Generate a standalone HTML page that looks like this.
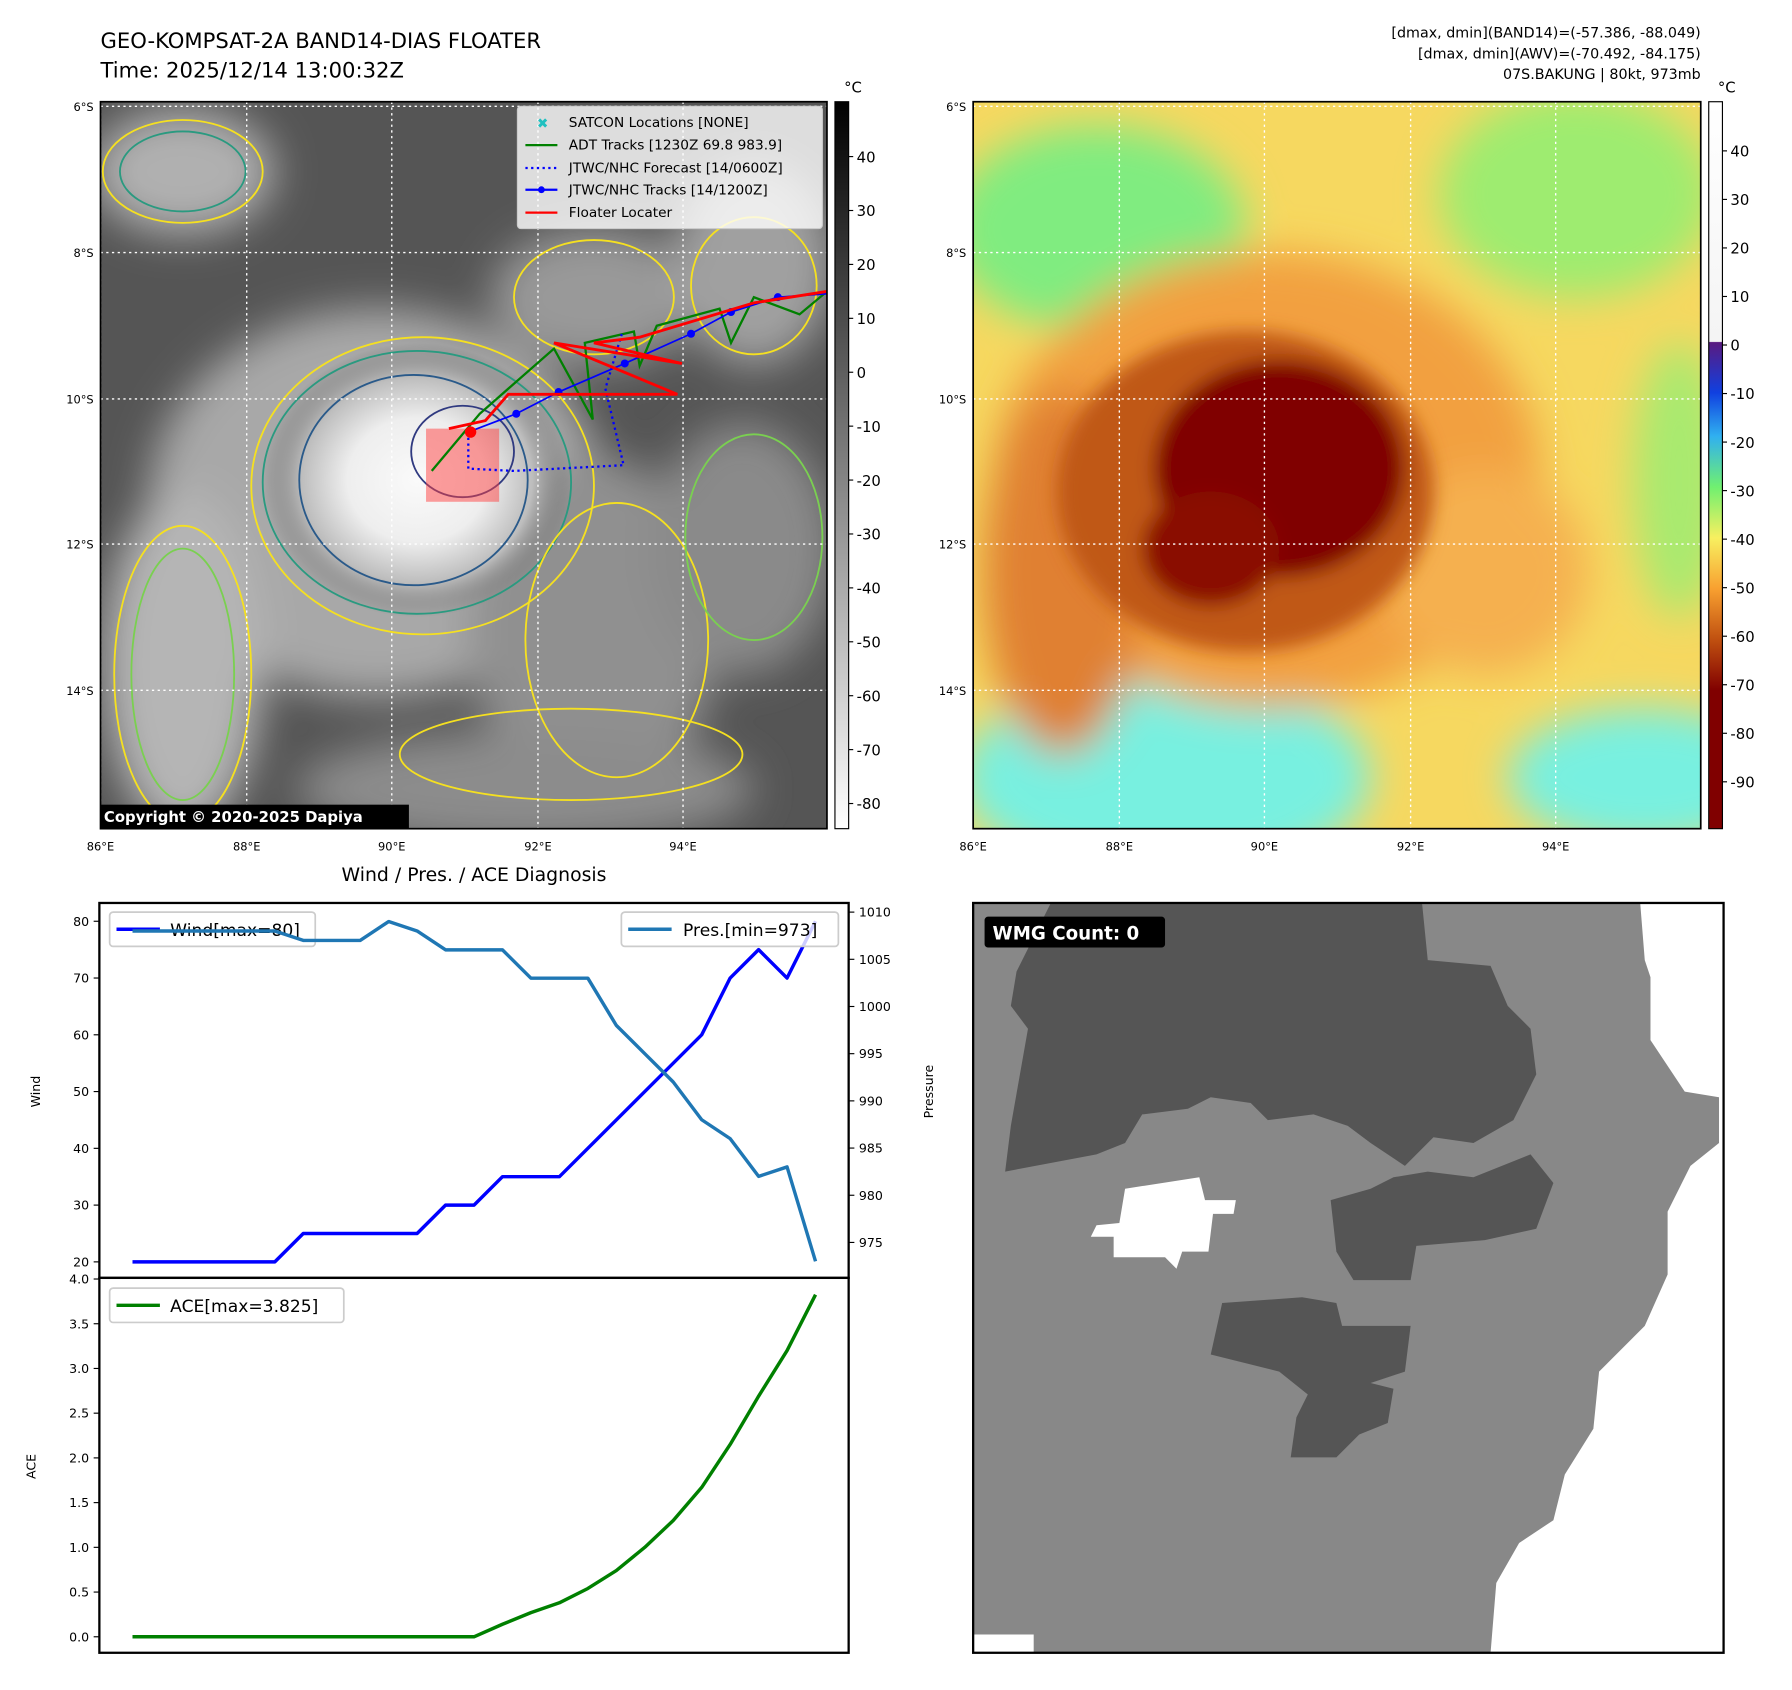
<!DOCTYPE html>
<html><head><meta charset="utf-8"><style>
html,body{margin:0;padding:0;background:#fff;}
body{width:1792px;height:1690px;overflow:hidden;}
#root{position:absolute;left:0;top:0;width:1568px;height:1478px;transform:scale(1.1422,1.1430);transform-origin:0 0;font-family:"DejaVu Sans","Liberation Sans",sans-serif;}
.t{position:absolute;white-space:nowrap;color:#000;}
</style></head><body>
<div id="root">
<div class="t" style="left:88px;top:24px;font-size:18.5px;line-height:26px;">GEO-KOMPSAT-2A BAND14-DIAS FLOATER<br>Time: 2025/12/14 13:00:32Z</div>
<div class="t" style="right:79px;top:20px;font-size:12.5px;line-height:18px;text-align:right;">[dmax, dmin](BAND14)=(-57.386, -88.049)<br>[dmax, dmin](AWV)=(-70.492, -84.175)<br>07S.BAKUNG | 80kt, 973mb</div>

<svg width="1568" height="1478" style="position:absolute;left:0;top:0" font-family="DejaVu Sans, Liberation Sans, sans-serif">
<defs>
<radialGradient id="eyeL" cx="0.5" cy="0.5" r="0.5"><stop offset="0" stop-color="#fafafa"/><stop offset="0.45" stop-color="#eeeeee"/><stop offset="0.75" stop-color="#bdbdbd"/><stop offset="1" stop-color="#606060" stop-opacity="0"/></radialGradient>
<linearGradient id="cbL" x1="0" y1="0" x2="0" y2="1"><stop offset="0" stop-color="#000"/><stop offset="1" stop-color="#fff"/></linearGradient>
<linearGradient id="cbR" x1="0" y1="0" x2="0" y2="1">
<stop offset="0" stop-color="#ffffff"/><stop offset="0.33" stop-color="#f4f4f4"/><stop offset="0.331" stop-color="#5a1a80"/><stop offset="0.40" stop-color="#1040e0"/><stop offset="0.46" stop-color="#30b0f0"/><stop offset="0.53" stop-color="#70f070"/><stop offset="0.60" stop-color="#f8f060"/><stop offset="0.67" stop-color="#f8a030"/><stop offset="0.74" stop-color="#c05010"/><stop offset="0.81" stop-color="#800000"/><stop offset="1" stop-color="#800000"/></linearGradient>
<filter id="bl" x="-50%" y="-50%" width="200%" height="200%"><feGaussianBlur stdDeviation="18"/></filter>
<filter id="bl2" x="-50%" y="-50%" width="200%" height="200%"><feGaussianBlur stdDeviation="8"/></filter>
<clipPath id="clipL"><rect x="88" y="89" width="636" height="636"/></clipPath>
<clipPath id="clipR"><rect x="852" y="89" width="637" height="636"/></clipPath>
</defs>

<g clip-path="url(#clipL)">
<rect x="88" y="89" width="636" height="636" fill="#555"/>
<g filter="url(#bl)">
<ellipse cx="160" cy="150" rx="80" ry="55" fill="#b0b0b0"/>
<ellipse cx="520" cy="260" rx="90" ry="60" fill="#999"/>
<ellipse cx="660" cy="230" rx="70" ry="90" fill="#a0a0a0"/>
<ellipse cx="330" cy="440" rx="200" ry="170" fill="#a8a8a8"/>
<ellipse cx="160" cy="580" rx="70" ry="150" fill="#b5b5b5"/>
<ellipse cx="520" cy="550" rx="110" ry="150" fill="#909090"/>
<ellipse cx="650" cy="480" rx="80" ry="110" fill="#8a8a8a"/>
<ellipse cx="460" cy="690" rx="200" ry="50" fill="#8c8c8c"/>
</g>
<ellipse cx="365" cy="420" rx="135" ry="120" fill="url(#eyeL)"/>
<g fill="none" stroke-width="1.6">
<ellipse cx="370" cy="425" rx="150" ry="130" stroke="#f5e020"/>
<ellipse cx="365" cy="422" rx="135" ry="115" stroke="#2a9a80"/>
<ellipse cx="362" cy="420" rx="100" ry="92" stroke="#2a5a8a"/>
<ellipse cx="405" cy="395" rx="45" ry="40" stroke="#303a80"/>
<ellipse cx="160" cy="150" rx="70" ry="45" stroke="#f5e020"/>
<ellipse cx="160" cy="150" rx="55" ry="35" stroke="#2a9a80"/>
<ellipse cx="160" cy="590" rx="60" ry="130" stroke="#f5e020"/>
<ellipse cx="160" cy="590" rx="45" ry="110" stroke="#7ad050"/>
<ellipse cx="520" cy="260" rx="70" ry="50" stroke="#f5e020"/>
<ellipse cx="660" cy="250" rx="55" ry="60" stroke="#f5e020"/>
<ellipse cx="540" cy="560" rx="80" ry="120" stroke="#f5e020"/>
<ellipse cx="660" cy="470" rx="60" ry="90" stroke="#7ad050"/>
<ellipse cx="500" cy="660" rx="150" ry="40" stroke="#f5e020"/>
</g>
<g stroke="#fff" stroke-dasharray="2,3" stroke-width="1.2">
<line x1="88" y1="93" x2="724" y2="93"/><line x1="88" y1="221" x2="724" y2="221"/><line x1="88" y1="349" x2="724" y2="349"/><line x1="88" y1="476" x2="724" y2="476"/><line x1="88" y1="604" x2="724" y2="604"/>
<line x1="88" y1="89" x2="88" y2="725"/><line x1="216" y1="89" x2="216" y2="725"/><line x1="343" y1="89" x2="343" y2="725"/><line x1="471" y1="89" x2="471" y2="725"/><line x1="598" y1="89" x2="598" y2="725"/>
</g>
<rect x="373" y="375" width="64" height="64" fill="#ff4040" fill-opacity="0.5"/>
<polyline points="378,412 420,362 485,305 519,367 512,300 555,290 560,320 575,285 630,270 640,300 660,260 700,275 724,255" fill="none" stroke="#008000" stroke-width="2"/>
<polyline points="410,378 410,410 450,412 546,407 530,340 545,290" fill="none" stroke="#0000ff" stroke-width="2" stroke-dasharray="2,3"/>
<polyline points="410,378 452,362 489,343 547,318 605,292 640,273 681,260 724,257" fill="none" stroke="#0000ff" stroke-width="1.5"/>
<g fill="#0000ff"><circle cx="452" cy="362" r="3.5"/><circle cx="489" cy="343" r="3.5"/><circle cx="547" cy="318" r="3.5"/><circle cx="605" cy="292" r="3.5"/><circle cx="640" cy="273" r="3.5"/><circle cx="681" cy="260" r="3.5"/></g>
<polyline points="393,375 425,368 445,345 593,345 485,300 597,318 520,300 560,295 660,265 724,255" fill="none" stroke="#ff0000" stroke-width="2.5"/>
<circle cx="412" cy="378" r="5" fill="#ff0000"/>
<g>
<rect x="453" y="93" width="267" height="107" rx="3" fill="#fff" fill-opacity="0.8" stroke="#ccc"/>
<text x="470" y="112" font-size="12" fill="#20c0c0" font-weight="bold">✖</text><text x="498" y="111" font-size="12">SATCON Locations [NONE]</text>
<line x1="460" y1="127" x2="488" y2="127" stroke="#008000" stroke-width="2"/><text x="498" y="131" font-size="12">ADT Tracks [1230Z 69.8 983.9]</text>
<line x1="460" y1="147" x2="488" y2="147" stroke="#0000ff" stroke-width="2" stroke-dasharray="2,3"/><text x="498" y="151" font-size="12">JTWC/NHC Forecast [14/0600Z]</text>
<line x1="460" y1="166" x2="488" y2="166" stroke="#0000ff" stroke-width="2"/><circle cx="474" cy="166" r="3" fill="#0000ff"/><text x="498" y="170" font-size="12">JTWC/NHC Tracks [14/1200Z]</text>
<line x1="460" y1="186" x2="488" y2="186" stroke="#ff0000" stroke-width="2"/><text x="498" y="190" font-size="12">Floater Locater</text>
</g>
<rect x="88" y="704" width="270" height="21" fill="#000"/>
<text x="91" y="719" font-size="13" font-weight="bold" fill="#fff">Copyright © 2020-2025 Dapiya</text>
</g>
<rect x="88" y="89" width="636" height="636" fill="none" stroke="#000" stroke-width="1.5"/>
<g font-size="10" text-anchor="end">
<text x="82" y="97">6°S</text><text x="82" y="225">8°S</text><text x="82" y="353">10°S</text><text x="82" y="480">12°S</text><text x="82" y="608">14°S</text></g>
<g font-size="10" text-anchor="middle">
<text x="88" y="744">86°E</text><text x="216" y="744">88°E</text><text x="343" y="744">90°E</text><text x="471" y="744">92°E</text><text x="598" y="744">94°E</text></g>
<rect x="731" y="89" width="12" height="636" fill="url(#cbL)" stroke="#000"/>
<text x="739" y="81" font-size="13">°C</text>
<g font-size="13" id="cbLt"></g>

<g clip-path="url(#clipR)">
<rect x="852" y="89" width="637" height="636" fill="#f6d860"/>
<g filter="url(#bl)">
<ellipse cx="960" cy="200" rx="130" ry="90" fill="#80ec80"/>
<ellipse cx="1380" cy="170" rx="120" ry="90" fill="#9eec70"/>
<ellipse cx="1470" cy="420" rx="40" ry="120" fill="#a8ea70"/>
<ellipse cx="1020" cy="680" rx="180" ry="90" fill="#78f0e0"/>
<ellipse cx="1440" cy="680" rx="120" ry="60" fill="#78f0e0"/>
<ellipse cx="1110" cy="420" rx="240" ry="200" fill="#f2a040"/>
<ellipse cx="930" cy="500" rx="70" ry="160" fill="#e08030"/>
<ellipse cx="1300" cy="500" rx="90" ry="90" fill="#f5b050"/>
</g>
<g filter="url(#bl2)">
<ellipse cx="1090" cy="430" rx="165" ry="140" fill="#c05812"/>
<ellipse cx="1120" cy="410" rx="110" ry="95" fill="#800000"/>
<ellipse cx="1060" cy="480" rx="60" ry="50" fill="#8a1000"/>
</g>
<g stroke="#fff" stroke-dasharray="2,3" stroke-width="1.2">
<line x1="852" y1="93" x2="1489" y2="93"/><line x1="852" y1="221" x2="1489" y2="221"/><line x1="852" y1="349" x2="1489" y2="349"/><line x1="852" y1="476" x2="1489" y2="476"/><line x1="852" y1="604" x2="1489" y2="604"/>
<line x1="980" y1="89" x2="980" y2="725"/><line x1="1107" y1="89" x2="1107" y2="725"/><line x1="1235" y1="89" x2="1235" y2="725"/><line x1="1362" y1="89" x2="1362" y2="725"/>
</g>
</g>
<rect x="852" y="89" width="637" height="636" fill="none" stroke="#000" stroke-width="1.5"/>
<g font-size="10" text-anchor="end">
<text x="846" y="97">6°S</text><text x="846" y="225">8°S</text><text x="846" y="353">10°S</text><text x="846" y="480">12°S</text><text x="846" y="608">14°S</text></g>
<g font-size="10" text-anchor="middle">
<text x="852" y="744">86°E</text><text x="980" y="744">88°E</text><text x="1107" y="744">90°E</text><text x="1235" y="744">92°E</text><text x="1362" y="744">94°E</text></g>
<rect x="1496" y="89" width="12" height="636" fill="url(#cbR)" stroke="#000"/>
<text x="1504" y="81" font-size="13">°C</text>
<g font-size="13" id="cbRt"></g>

<g>
<rect x="852" y="790" width="657" height="656" fill="#888"/>
<polygon fill="#fff" points="1436,790 1509,790 1509,1446 1305,1446 1310,1385 1330,1350 1360,1330 1370,1290 1395,1250 1400,1200 1440,1160 1460,1115 1460,1060 1480,1020 1505,1000 1505,960 1475,955 1445,910 1445,855 1440,840"/>
<polygon fill="#fff" points="852,1430 905,1430 905,1446 852,1446"/>
<polygon fill="#555" points="920,790 1245,790 1250,840 1305,845 1320,880 1340,900 1345,940 1325,980 1290,1000 1255,995 1230,1020 1200,1000 1180,985 1150,975 1110,980 1095,965 1060,960 1040,970 1000,975 985,1000 960,1010 880,1025 885,985 900,900 885,880 890,850"/>
<polygon fill="#555" points="1165,1050 1200,1040 1220,1030 1250,1025 1290,1030 1340,1010 1360,1035 1345,1075 1300,1085 1240,1090 1235,1120 1185,1120 1170,1095"/>
<polygon fill="#555" points="1070,1140 1140,1135 1170,1140 1175,1160 1235,1160 1230,1200 1200,1210 1220,1215 1215,1245 1190,1255 1170,1275 1130,1275 1135,1240 1145,1220 1120,1200 1060,1185"/>
<polygon fill="#fff" points="985,1040 1050,1030 1055,1050 1082,1050 1080,1062 1062,1062 1058,1095 1035,1095 1030,1110 1020,1100 975,1100 975,1082 955,1082 960,1072 980,1070"/>
<rect x="862" y="802" width="158" height="27" rx="3" fill="#000"/>
<text x="869" y="822" font-size="16" font-weight="bold" fill="#fff">WMG Count: 0</text>
<rect x="852" y="790" width="657" height="656" fill="none" stroke="#000" stroke-width="2"/>
</g>

<text x="415" y="771" font-size="16.5" text-anchor="middle">Wind / Pres. / ACE Diagnosis</text>
<g id="chart"></g>
</svg>
</div>
<script>
const cbLeftTicks = [40,30,20,10,0,-10,-20,-30,-40,-50,-60,-70,-80];
const cbRightTicks = [40,30,20,10,0,-10,-20,-30,-40,-50,-60,-70,-80,-90];
const windValues = [20,20,20,20,20,20,25,25,25,25,25,30,30,35,35,35,40,45,50,55,60,70,75,70,80];
const presValues = [1008,1008,1008,1008,1008,1008,1007,1007,1007,1009,1008,1006,1006,1006,1003,1003,1003,998,995,992,988,986,982,983,973];
const aceValues = [0,0,0,0,0,0,0,0,0,0,0,0,0,0.14,0.27,0.38,0.54,0.74,1.0,1.3,1.67,2.15,2.69,3.2,3.825];
const windTicks = [20,30,40,50,60,70,80];
const presTicks = [975,980,985,990,995,1000,1005,1010];
const aceTicks = [0,0.5,1,1.5,2,2.5,3,3.5,4];
const NS='http://www.w3.org/2000/svg';
function mk(parent,tag,attrs,txt){const e=document.createElementNS(NS,tag);for(const k in attrs)e.setAttribute(k,attrs[k]);if(txt!==undefined)e.textContent=txt;parent.appendChild(e);return e;}
const yL=v=>137+(40-v)*(703-137)/120;
const gl=document.getElementById('cbLt');
cbLeftTicks.forEach(v=>{mk(gl,'line',{x1:743,x2:747,y1:yL(v),y2:yL(v),stroke:'#000'});const t=mk(gl,'text',{x:750,y:yL(v)+5},String(v));

});
const yR=v=>132+(40-v)*(684-132)/130;
const gr=document.getElementById('cbRt');
cbRightTicks.forEach(v=>{mk(gr,'line',{x1:1508,x2:1512,y1:yR(v),y2:yR(v),stroke:'#000'});const t=mk(gr,'text',{x:1515,y:yR(v)+5},String(v));

});
const ch=document.getElementById('chart');
const L=87,R=743,T1=790,B1=1118,T2=1118,B2=1446;
const xS=i=>116+i*(714-116)/(windValues.length-1);
const yW=v=>806+(80-v)*(1104-806)/60;
const yP=v=>798+(1010-v)*(1087-798)/35;
const yA=v=>1432-v*(1432-1119)/4;
function ticks(arr,fy,side,fmt,name){arr.forEach(v=>{const y=fy(v);
if(side==='l'){mk(ch,'line',{x1:L-5,x2:L,y1:y,y2:y,stroke:'#000'});const t=mk(ch,'text',{x:L-9,y:y+4,'font-size':11,'text-anchor':'end'},fmt(v));

}
else{mk(ch,'line',{x1:R,x2:R+5,y1:y,y2:y,stroke:'#000'});const t=mk(ch,'text',{x:R+9,y:y+4,'font-size':11},fmt(v));

}});}
ticks(windTicks,yW,'l',v=>String(v),'wind-tick-label');
ticks(presTicks,yP,'r',v=>String(v),'pressure-tick-label');
ticks(aceTicks,yA,'l',v=>v.toFixed(1),'ace-tick-label');
const pl=(vals,fy,col,name)=>{const p=mk(ch,'polyline',{points:vals.map((v,i)=>xS(i)+','+fy(v)).join(' '),fill:'none',stroke:col,'stroke-width':3,'stroke-linejoin':'round'});

};
let lg=mk(ch,'g',{});


mk(lg,'rect',{x:96,y:798,width:180,height:30,rx:3,fill:'#fff','fill-opacity':0.8,stroke:'#ccc','stroke-width':1.5});
mk(lg,'line',{x1:102,x2:140,y1:813,y2:813,stroke:'#0000ff','stroke-width':3});
mk(lg,'text',{x:149,y:819,'font-size':15},'Wind[max=80]');
pl(windValues,yW,'#0000ff','wind-line');
pl(presValues,yP,'#1f77b4','pressure-line');
lg=mk(ch,'g',{});


mk(lg,'rect',{x:544,y:798,width:190,height:30,rx:3,fill:'#fff','fill-opacity':0.8,stroke:'#ccc','stroke-width':1.5});
mk(lg,'line',{x1:550,x2:588,y1:813,y2:813,stroke:'#1f77b4','stroke-width':3});
mk(lg,'text',{x:598,y:819,'font-size':15},'Pres.[min=973]');
pl(aceValues,yA,'#008000','ace-line');
lg=mk(ch,'g',{});


mk(lg,'rect',{x:96,y:1127,width:205,height:30,rx:3,fill:'#fff','fill-opacity':0.8,stroke:'#ccc','stroke-width':1.5});
mk(lg,'line',{x1:102,x2:140,y1:1142,y2:1142,stroke:'#008000','stroke-width':3});
mk(lg,'text',{x:149,y:1148,'font-size':15},'ACE[max=3.825]');
mk(ch,'rect',{x:L,y:T1,width:R-L,height:B1-T1,fill:'none',stroke:'#000','stroke-width':2});
mk(ch,'rect',{x:L,y:T2,width:R-L,height:B2-T2,fill:'none',stroke:'#000','stroke-width':2});
let t=mk(ch,'text',{x:35,y:955,'font-size':11,'text-anchor':'middle',transform:'rotate(-90 35 955)'},'Wind');


t=mk(ch,'text',{x:817,y:955,'font-size':11,'text-anchor':'middle',transform:'rotate(-90 817 955)'},'Pressure');


t=mk(ch,'text',{x:31,y:1283,'font-size':11,'text-anchor':'middle',transform:'rotate(-90 31 1283)'},'ACE');


</script>
</body></html>
